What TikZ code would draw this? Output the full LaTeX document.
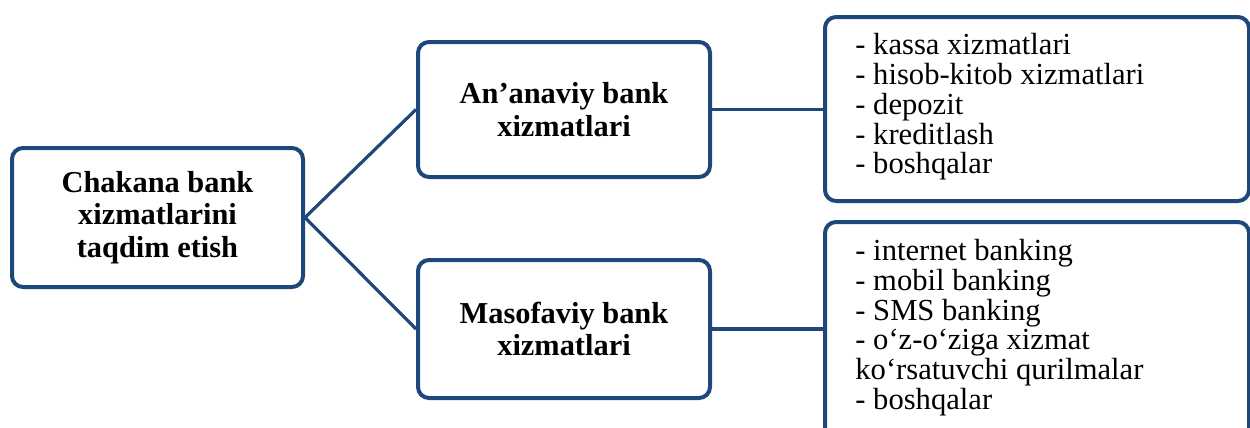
\documentclass[tikz,border=0pt]{standalone}
\usepackage{fontspec}
\setmainfont{Liberation Serif}
\definecolor{boxblue}{RGB}{30,72,122}
\begin{document}
\begin{tikzpicture}[x=0.5pt,y=-0.5pt,
  box/.style={draw=boxblue,line width=2pt,rounded corners=5.5pt,fill=white,inner sep=0pt},
  head/.style={box,font=\fontsize{15.2}{16.2}\selectfont\bfseries,align=center},
  list/.style={font=\fontsize{15.3}{14.85}\selectfont,align=left,anchor=west,inner sep=0pt},
  link/.style={draw=boxblue,line width=1.6pt}]
\useasboundingbox (0,0) rectangle (1250,428);
\clip (0,0) rectangle (1250,428);
% boxes
\node[head,minimum width=145.5pt,minimum height=69.5pt] (root) at (157.5,217.5) {Chakana bank\\xizmatlarini\\taqdim etish};
\node[head,minimum width=146pt,minimum height=67.5pt] (trad) at (564,109.5) {An’anaviy bank\\xizmatlari};
\node[head,minimum width=146pt,minimum height=69pt] (remote) at (564,329) {Masofaviy bank\\xizmatlari};
\node[box,minimum width=212pt,minimum height=92pt] (tradlist) at (1037,109) {};
\node[box,minimum width=212pt,minimum height=109pt] (remotelist) at (1037,331) {};
\node[list] (tradtext) at (855,107) {- kassa xizmatlari\\- hisob-kitob xizmatlari\\- depozit\\- kreditlash\\- boshqalar};
\node[list] (remotetext) at (855,327.5) {- internet banking\\- mobil banking\\- SMS banking\\- o‘z-o‘ziga xizmat\\ko‘rsatuvchi qurilmalar\\- boshqalar};
% connectors
\draw[link] (root.east) -- (trad.west);
\draw[link] (root.east) -- (remote.west);
\draw[link] (trad.east) -- (trad.east -| tradlist.west);
\draw[link] (remote.east) -- (remote.east -| remotelist.west);
\end{tikzpicture}
\end{document}
